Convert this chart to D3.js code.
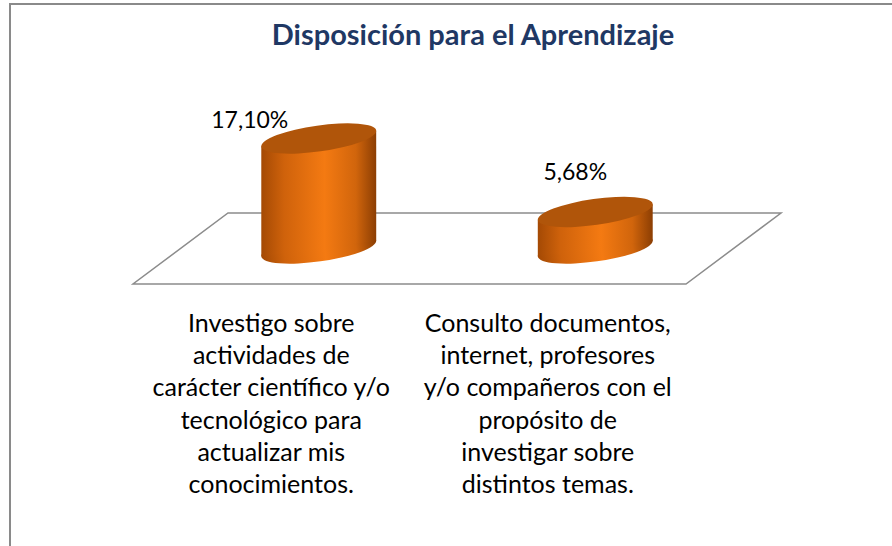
<!DOCTYPE html>
<html>
<head>
    <meta charset="utf-8">
    <style>
        body { margin: 0; background: white; }
        svg { display: block; font-family: Lato, 'Open Sans', sans-serif; }
    </style>
</head>
<body>
    <svg width="892" height="546"></svg>

<script src="https://cdn.jsdelivr.net/npm/d3@7"></script>
<script>
    // data
    let categories = ["cat1", "cat2"]
    let values = [17.10, 5.68]
    let valueLabels = ["17,10%", "5,68%"]
    let categoryLines = [
        ["Investigo sobre", "actividades de", "carácter científico y/o", "tecnológico para", "actualizar mis", "conocimientos."],
        ["Consulto documentos,", "internet, profesores", "y/o compañeros con el", "propósito de", "investigar sobre", "distintos temas."]
    ]
    let title = "Disposición para el Aprendizaje"

    let svg = d3.select("svg")

    // frame
    svg.append("rect")
        .attr("x", 10).attr("y", 4)
        .attr("width", 900).attr("height", 560)
        .attr("fill", "white")
        .attr("stroke", "#8a8a8a")
        .attr("stroke-width", 2)

    svg.append("text")
        .attr("x", 473).attr("y", 45)
        .attr("text-anchor", "middle")
        .attr("font-weight", "bold")
        .attr("font-size", 29)
        .attr("fill", "#1f3864")
        .text(title)

    // floor geometry (front edge + depth offset)
    let frontY = 284
    let depthX = 95, depthY = -71
    let x = d3.scaleBand().domain(categories).range([133, 686])
    let h = d3.scaleLinear().domain([0, 17.1]).range([0, 110])

    let floor = [[133, frontY], [686, frontY], [686 + depthX, frontY + depthY], [133 + depthX, frontY + depthY]]
    svg.append("path")
        .attr("d", d3.line()(floor) + "Z")
        .attr("fill", "white")
        .attr("stroke", "#8c8c8c")
        .attr("stroke-width", 1.5)

    let defs = svg.append("defs")

    let rx = 58, ry = 13, rot = -8 * Math.PI / 180

    function ellPoint(cx, cy, t) {
        return [cx + rx * Math.cos(t) * Math.cos(rot) - ry * Math.sin(t) * Math.sin(rot),
                cy + rx * Math.cos(t) * Math.sin(rot) + ry * Math.sin(t) * Math.cos(rot)]
    }

    let t0 = Math.atan2(-ry * Math.sin(rot), rx * Math.cos(rot))

    categories.forEach((c, i) => {
        let cx = x(c) + x.bandwidth() / 2 + depthX / 2
        let cyBottom = frontY + depthY / 2
        let cyTop = cyBottom - h(values[i])

        let g = defs.append("linearGradient")
            .attr("id", "side" + i)
            .attr("gradientUnits", "userSpaceOnUse")
            .attr("x1", cx - rx).attr("x2", cx + rx)
            .attr("y1", 0).attr("y2", 0)
        g.append("stop").attr("offset", "0%").attr("stop-color", "#a34904")
        g.append("stop").attr("offset", "20%").attr("stop-color", "#cf620b")
        g.append("stop").attr("offset", "55%").attr("stop-color", "#f47a12")
        g.append("stop").attr("offset", "82%").attr("stop-color", "#d1650c")
        g.append("stop").attr("offset", "100%").attr("stop-color", "#8a3d03")

        let cyl = svg.append("g")

        // side: bottom ellipse + band between tangent points
        let bL = ellPoint(cx, cyBottom, t0 + Math.PI), bR = ellPoint(cx, cyBottom, t0)
        let tL = ellPoint(cx, cyTop, t0 + Math.PI), tR = ellPoint(cx, cyTop, t0)
        cyl.append("ellipse")
            .attr("cx", cx).attr("cy", cyBottom)
            .attr("rx", rx).attr("ry", ry)
            .attr("transform", `rotate(${rot * 180 / Math.PI},${cx},${cyBottom})`)
            .attr("fill", `url(#side${i})`)
        cyl.append("path")
            .attr("d", d3.line()([tL, tR, bR, bL]) + "Z")
            .attr("fill", `url(#side${i})`)
        cyl.append("ellipse")
            .attr("cx", cx).attr("cy", cyTop)
            .attr("rx", rx).attr("ry", ry)
            .attr("transform", `rotate(${rot * 180 / Math.PI},${cx},${cyTop})`)
            .attr("fill", "#b0550a")
    })

    // value labels, nudged the way they sit in the chart
    let labelNudge = [[-69, -11], [-20, -32]]
    svg.append("g")
        .selectAll("text")
        .data(values)
        .join("text")
        .attr("x", (d, i) => x(categories[i]) + x.bandwidth() / 2 + depthX / 2 + labelNudge[i][0])
        .attr("y", (d, i) => frontY + depthY / 2 - h(d) + labelNudge[i][1])
        .attr("text-anchor", "middle")
        .attr("font-size", 23)
        .attr("fill", "black")
        .text((d, i) => valueLabels[i])

    // category labels under the front edge
    let catG = svg.append("g")
        .selectAll("text")
        .data(categories)
        .join("text")
        .attr("text-anchor", "middle")
        .attr("font-size", 25)
        .attr("fill", "black")

    catG.selectAll("tspan")
        .data((d, i) => categoryLines[i].map(t => ({ t, c: d })))
        .join("tspan")
        .attr("x", d => x(d.c) + x.bandwidth() / 2)
        .attr("y", (d, j) => 332 + j * 32.2)
        .text(d => d.t)
</script>
</body>
</html>
